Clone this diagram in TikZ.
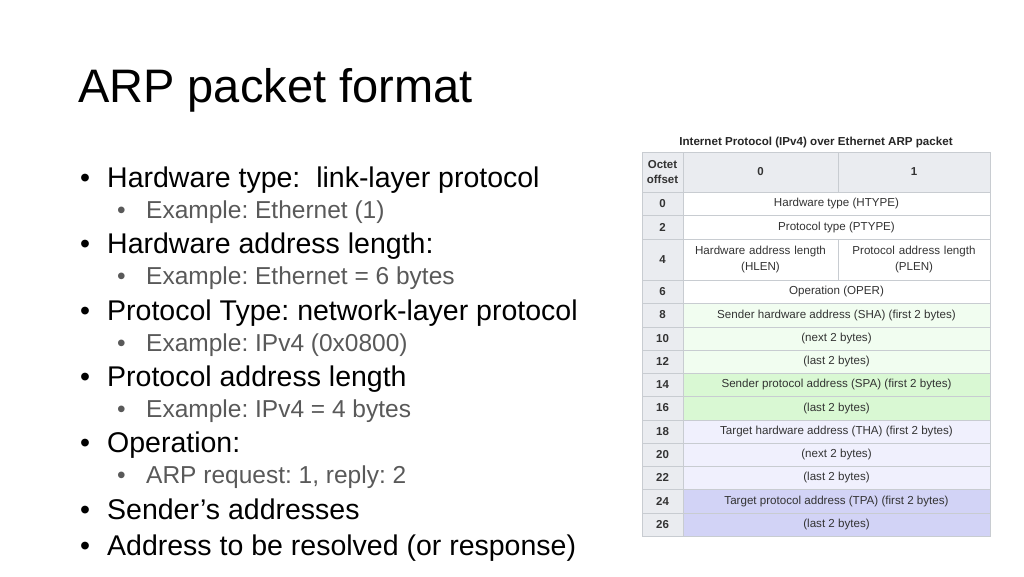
\documentclass[tikz,border=0pt]{standalone}
\usepackage{fontspec}
\setmainfont{Liberation Sans}
\frenchspacing
\definecolor{hdr}{HTML}{EAECF0}
\definecolor{lines}{HTML}{C8CCD1}
\definecolor{wht}{HTML}{FFFFFF}
\definecolor{shac}{HTML}{F1FDF0}
\definecolor{spac}{HTML}{D9F8D3}
\definecolor{thac}{HTML}{F0F0FD}
\definecolor{tpac}{HTML}{D2D3F6}
\definecolor{subgray}{HTML}{595959}
\begin{document}
\begin{tikzpicture}[x=1pt,y=-1pt,
  cell/.style={draw=lines,line width=0.8pt},
  ctext/.style={font=\fontsize{11.6}{13}\selectfont,text=black!80,align=center},
  otext/.style={font=\fontsize{11.5}{13}\selectfont\bfseries,text=black!80,align=center},
  l1/.style={anchor=base west,font=\fontsize{28.5}{32}\selectfont,inner sep=0pt},
  l2/.style={anchor=base west,font=\fontsize{24.5}{28}\selectfont,text=subgray,inner sep=0pt}]
\useasboundingbox (0,0) rectangle (1024,576);
\node[anchor=base west,font=\fontsize{47}{52}\selectfont,inner sep=0pt] (title) at (78,102) {ARP packet format};
% bullets
\foreach \y/\t/\lv [count=\i] in {
 177/{Hardware type:\ \ link-layer protocol}/1,
 210/{Example: Ethernet (1)}/2,
 243/{Hardware address length:}/1,
 276/{Example: Ethernet = 6 bytes}/2,
 310/{Protocol Type: network-layer protocol}/1,
 343/{Example: IPv4 (0x0800)}/2,
 376/{Protocol address length}/1,
 409/{Example: IPv4 = 4 bytes}/2,
 442/{Operation:}/1,
 475/{ARP request: 1, reply: 2}/2,
 509/{Sender’s addresses}/1,
 545/{Address to be resolved (or response)}/1}{
  \ifnum\lv=1
    \node[l1] (b\i) at (80,\y+10) {•};
    \node[l1] (t\i) at (107,\y+10) {\t};
  \else
    \node[l2] (b\i) at (117,\y+8.5) {•};
    \node[l2] (t\i) at (146,\y+8.5) {\t};
  \fi
}
% table
\node[font=\fontsize{11.6}{13}\selectfont\bfseries,text=black!85] (cap) at (816,142) {Internet Protocol (IPv4) over Ethernet ARP packet};
\fill[hdr] (642,152) rectangle (990,192);
\draw[cell] (642,152) rectangle (990,192);
\draw[cell] (683,152) -- (683,192) (838,152) -- (838,192);
\node[otext] (oh) at (662.5,172) {Octet\\[2pt]offset};
\node[otext] (h0) at (760.5,172) {0};
\node[otext] (h1) at (914,172) {1};
\foreach \o/\a/\b/\c/\t in {
 0/192/215/wht/{Hardware type (HTYPE)},
 2/215/239/wht/{Protocol type (PTYPE)},
 6/280/303/wht/{Operation (OPER)},
 8/303/327/shac/{Sender hardware address (SHA) (first 2 bytes)},
 10/327/350/shac/{(next 2 bytes)},
 12/350/373/shac/{(last 2 bytes)},
 14/373/396/spac/{Sender protocol address (SPA) (first 2 bytes)},
 16/396/420/spac/{(last 2 bytes)},
 18/420/443/thac/{Target hardware address (THA) (first 2 bytes)},
 20/443/466/thac/{(next 2 bytes)},
 22/466/489/thac/{(last 2 bytes)},
 24/489/513/tpac/{Target protocol address (TPA) (first 2 bytes)},
 26/513/536/tpac/{(last 2 bytes)}}{
  \fill[hdr] (642,\a) rectangle (683,\b);
  \fill[\c] (683,\a) rectangle (990,\b);
  \draw[cell] (642,\a) rectangle (683,\b);
  \draw[cell] (683,\a) rectangle (990,\b);
  \node[otext] (o\o) at (662.5,{(\a+\b)/2}) {\o};
  \node[ctext] (f\o) at (836.5,{(\a+\b)/2}) {\t};
}
\fill[hdr] (642,239) rectangle (683,280);
\draw[cell] (642,239) rectangle (683,280);
\draw[cell] (683,239) rectangle (838,280);
\draw[cell] (838,239) rectangle (990,280);
\node[otext] (o4) at (662.5,259.5) {4};
\node[ctext,text width=150pt] (f4a) at (760.5,259.5) {Hardware address length\\[3pt](HLEN)};
\node[ctext,text width=150pt] (f4b) at (914,259.5) {Protocol address length\\[3pt](PLEN)};
\end{tikzpicture}
\end{document}
